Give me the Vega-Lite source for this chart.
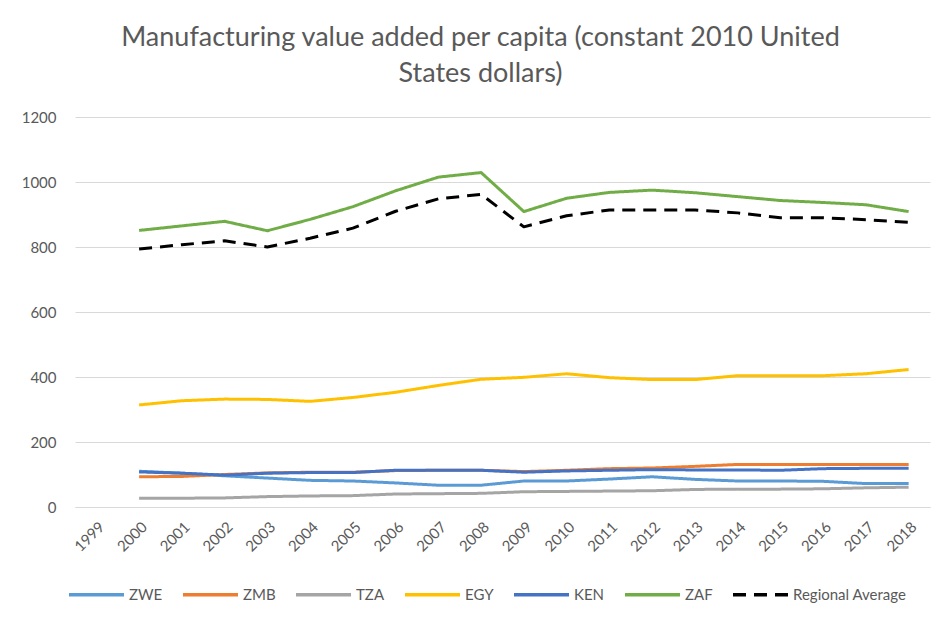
{
  "$schema": "https://vega.github.io/schema/vega-lite/v6.json",
  "width": 855,
  "height": 390,
  "autosize": {"type": "none"},
  "padding": {"left": 75, "top": 117, "right": 15, "bottom": 116},
  "background": "white",
  "title": {
    "text": ["Manufacturing value added per capita (constant 2010 United", "States dollars)"],
    "font": "Lato",
    "fontSize": 27,
    "fontWeight": "normal",
    "color": "#595959",
    "anchor": "middle",
    "dx": -22,
    "offset": 22,
    "lineHeight": 36
  },
  "data": {
    "values": [
      {"year": "2000", "series": "ZWE", "value": 110},
      {"year": "2001", "series": "ZWE", "value": 104},
      {"year": "2002", "series": "ZWE", "value": 96},
      {"year": "2003", "series": "ZWE", "value": 89},
      {"year": "2004", "series": "ZWE", "value": 82},
      {"year": "2005", "series": "ZWE", "value": 80},
      {"year": "2006", "series": "ZWE", "value": 74},
      {"year": "2007", "series": "ZWE", "value": 67},
      {"year": "2008", "series": "ZWE", "value": 67},
      {"year": "2009", "series": "ZWE", "value": 80},
      {"year": "2010", "series": "ZWE", "value": 80},
      {"year": "2011", "series": "ZWE", "value": 86},
      {"year": "2012", "series": "ZWE", "value": 93},
      {"year": "2013", "series": "ZWE", "value": 85},
      {"year": "2014", "series": "ZWE", "value": 80},
      {"year": "2015", "series": "ZWE", "value": 80},
      {"year": "2016", "series": "ZWE", "value": 79},
      {"year": "2017", "series": "ZWE", "value": 72},
      {"year": "2018", "series": "ZWE", "value": 72},
      {"year": "2000", "series": "ZMB", "value": 93},
      {"year": "2001", "series": "ZMB", "value": 94},
      {"year": "2002", "series": "ZMB", "value": 100},
      {"year": "2003", "series": "ZMB", "value": 105},
      {"year": "2004", "series": "ZMB", "value": 107},
      {"year": "2005", "series": "ZMB", "value": 107},
      {"year": "2006", "series": "ZMB", "value": 112},
      {"year": "2007", "series": "ZMB", "value": 113},
      {"year": "2008", "series": "ZMB", "value": 113},
      {"year": "2009", "series": "ZMB", "value": 109},
      {"year": "2010", "series": "ZMB", "value": 113},
      {"year": "2011", "series": "ZMB", "value": 118},
      {"year": "2012", "series": "ZMB", "value": 120},
      {"year": "2013", "series": "ZMB", "value": 125},
      {"year": "2014", "series": "ZMB", "value": 131},
      {"year": "2015", "series": "ZMB", "value": 131},
      {"year": "2016", "series": "ZMB", "value": 131},
      {"year": "2017", "series": "ZMB", "value": 131},
      {"year": "2018", "series": "ZMB", "value": 131},
      {"year": "2000", "series": "TZA", "value": 27},
      {"year": "2001", "series": "TZA", "value": 27},
      {"year": "2002", "series": "TZA", "value": 28},
      {"year": "2003", "series": "TZA", "value": 32},
      {"year": "2004", "series": "TZA", "value": 34},
      {"year": "2005", "series": "TZA", "value": 35},
      {"year": "2006", "series": "TZA", "value": 40},
      {"year": "2007", "series": "TZA", "value": 41},
      {"year": "2008", "series": "TZA", "value": 42},
      {"year": "2009", "series": "TZA", "value": 47},
      {"year": "2010", "series": "TZA", "value": 48},
      {"year": "2011", "series": "TZA", "value": 49},
      {"year": "2012", "series": "TZA", "value": 50},
      {"year": "2013", "series": "TZA", "value": 54},
      {"year": "2014", "series": "TZA", "value": 55},
      {"year": "2015", "series": "TZA", "value": 55},
      {"year": "2016", "series": "TZA", "value": 56},
      {"year": "2017", "series": "TZA", "value": 59},
      {"year": "2018", "series": "TZA", "value": 61},
      {"year": "2000", "series": "EGY", "value": 314},
      {"year": "2001", "series": "EGY", "value": 327},
      {"year": "2002", "series": "EGY", "value": 332},
      {"year": "2003", "series": "EGY", "value": 331},
      {"year": "2004", "series": "EGY", "value": 325},
      {"year": "2005", "series": "EGY", "value": 337},
      {"year": "2006", "series": "EGY", "value": 353},
      {"year": "2007", "series": "EGY", "value": 374},
      {"year": "2008", "series": "EGY", "value": 393},
      {"year": "2009", "series": "EGY", "value": 399},
      {"year": "2010", "series": "EGY", "value": 410},
      {"year": "2011", "series": "EGY", "value": 398},
      {"year": "2012", "series": "EGY", "value": 392},
      {"year": "2013", "series": "EGY", "value": 392},
      {"year": "2014", "series": "EGY", "value": 404},
      {"year": "2015", "series": "EGY", "value": 404},
      {"year": "2016", "series": "EGY", "value": 404},
      {"year": "2017", "series": "EGY", "value": 410},
      {"year": "2018", "series": "EGY", "value": 423},
      {"year": "2000", "series": "KEN", "value": 108},
      {"year": "2001", "series": "KEN", "value": 104},
      {"year": "2002", "series": "KEN", "value": 98},
      {"year": "2003", "series": "KEN", "value": 104},
      {"year": "2004", "series": "KEN", "value": 106},
      {"year": "2005", "series": "KEN", "value": 106},
      {"year": "2006", "series": "KEN", "value": 113},
      {"year": "2007", "series": "KEN", "value": 113},
      {"year": "2008", "series": "KEN", "value": 113},
      {"year": "2009", "series": "KEN", "value": 107},
      {"year": "2010", "series": "KEN", "value": 111},
      {"year": "2011", "series": "KEN", "value": 113},
      {"year": "2012", "series": "KEN", "value": 115},
      {"year": "2013", "series": "KEN", "value": 114},
      {"year": "2014", "series": "KEN", "value": 114},
      {"year": "2015", "series": "KEN", "value": 113},
      {"year": "2016", "series": "KEN", "value": 118},
      {"year": "2017", "series": "KEN", "value": 119},
      {"year": "2018", "series": "KEN", "value": 119},
      {"year": "2000", "series": "ZAF", "value": 851},
      {"year": "2001", "series": "ZAF", "value": 865},
      {"year": "2002", "series": "ZAF", "value": 879},
      {"year": "2003", "series": "ZAF", "value": 850},
      {"year": "2004", "series": "ZAF", "value": 885},
      {"year": "2005", "series": "ZAF", "value": 924},
      {"year": "2006", "series": "ZAF", "value": 973},
      {"year": "2007", "series": "ZAF", "value": 1015},
      {"year": "2008", "series": "ZAF", "value": 1029},
      {"year": "2009", "series": "ZAF", "value": 909},
      {"year": "2010", "series": "ZAF", "value": 950},
      {"year": "2011", "series": "ZAF", "value": 968},
      {"year": "2012", "series": "ZAF", "value": 975},
      {"year": "2013", "series": "ZAF", "value": 967},
      {"year": "2014", "series": "ZAF", "value": 955},
      {"year": "2015", "series": "ZAF", "value": 943},
      {"year": "2016", "series": "ZAF", "value": 937},
      {"year": "2017", "series": "ZAF", "value": 930},
      {"year": "2018", "series": "ZAF", "value": 909},
      {"year": "2000", "series": "Regional Average", "value": 794},
      {"year": "2001", "series": "Regional Average", "value": 807},
      {"year": "2002", "series": "Regional Average", "value": 819},
      {"year": "2003", "series": "Regional Average", "value": 800},
      {"year": "2004", "series": "Regional Average", "value": 827},
      {"year": "2005", "series": "Regional Average", "value": 858},
      {"year": "2006", "series": "Regional Average", "value": 910},
      {"year": "2007", "series": "Regional Average", "value": 948},
      {"year": "2008", "series": "Regional Average", "value": 962},
      {"year": "2009", "series": "Regional Average", "value": 862},
      {"year": "2010", "series": "Regional Average", "value": 896},
      {"year": "2011", "series": "Regional Average", "value": 914},
      {"year": "2012", "series": "Regional Average", "value": 914},
      {"year": "2013", "series": "Regional Average", "value": 914},
      {"year": "2014", "series": "Regional Average", "value": 905},
      {"year": "2015", "series": "Regional Average", "value": 890},
      {"year": "2016", "series": "Regional Average", "value": 890},
      {"year": "2017", "series": "Regional Average", "value": 884},
      {"year": "2018", "series": "Regional Average", "value": 876}
    ]
  },
  "mark": {"type": "line", "strokeWidth": 3, "strokeCap": "butt", "strokeJoin": "round"},
  "encoding": {
    "x": {
      "field": "year",
      "type": "ordinal",
      "scale": {"type": "point", "padding": 0.5, "domain": ["1999","2000","2001","2002","2003","2004","2005","2006","2007","2008","2009","2010","2011","2012","2013","2014","2015","2016","2017","2018"]},
      "axis": {
        "title": null,
        "labelAngle": -45,
        "labelFont": "Lato",
        "labelFontSize": 15,
        "labelColor": "#595959",
        "domain": true,
        "domainColor": "#D9D9D9",
        "ticks": false,
        "grid": false,
        "labelPadding": 12
      }
    },
    "y": {
      "field": "value",
      "type": "quantitative",
      "scale": {"domain": [0, 1200]},
      "axis": {
        "title": null,
        "values": [0, 200, 400, 600, 800, 1000, 1200],
        "format": "d",
        "labelFont": "Lato",
        "labelFontSize": 15,
        "labelColor": "#595959",
        "domain": false,
        "ticks": false,
        "gridColor": "#D9D9D9",
        "gridWidth": 1,
        "labelPadding": 19
      }
    },
    "color": {
      "field": "series",
      "type": "nominal",
      "sort": ["ZWE", "ZMB", "TZA", "EGY", "KEN", "ZAF", "Regional Average"],
      "scale": {
        "domain": ["ZWE", "ZMB", "TZA", "EGY", "KEN", "ZAF", "Regional Average"],
        "range": ["#5B9BD5", "#ED7D31", "#A5A5A5", "#FFC000", "#4472C4", "#70AD47", "#000000"]
      },
      "legend": {
        "title": null,
        "orient": "none",
        "legendX": -8,
        "legendY": 448,
        "direction": "horizontal",
        "symbolType": "stroke",
        "symbolSize": 3025,
        "symbolStrokeWidth": 3.5,
        "labelFont": "Lato",
        "labelFontSize": 15,
        "labelColor": "#595959",
        "columnPadding": 13,
        "labelOffset": 3
      }
    },
    "strokeDash": {
      "field": "series",
      "type": "nominal",
      "sort": ["ZWE", "ZMB", "TZA", "EGY", "KEN", "ZAF", "Regional Average"],
      "scale": {
        "domain": ["ZWE", "ZMB", "TZA", "EGY", "KEN", "ZAF", "Regional Average"],
        "range": [[1, 0], [1, 0], [1, 0], [1, 0], [1, 0], [1, 0], [13, 8]]
      },
      "legend": null
    },
    "strokeWidth": {
      "condition": {"test": "datum.series === 'Regional Average'", "value": 4},
      "value": 3
    }
  },
  "config": {
    "view": {"stroke": null}
  }
}
